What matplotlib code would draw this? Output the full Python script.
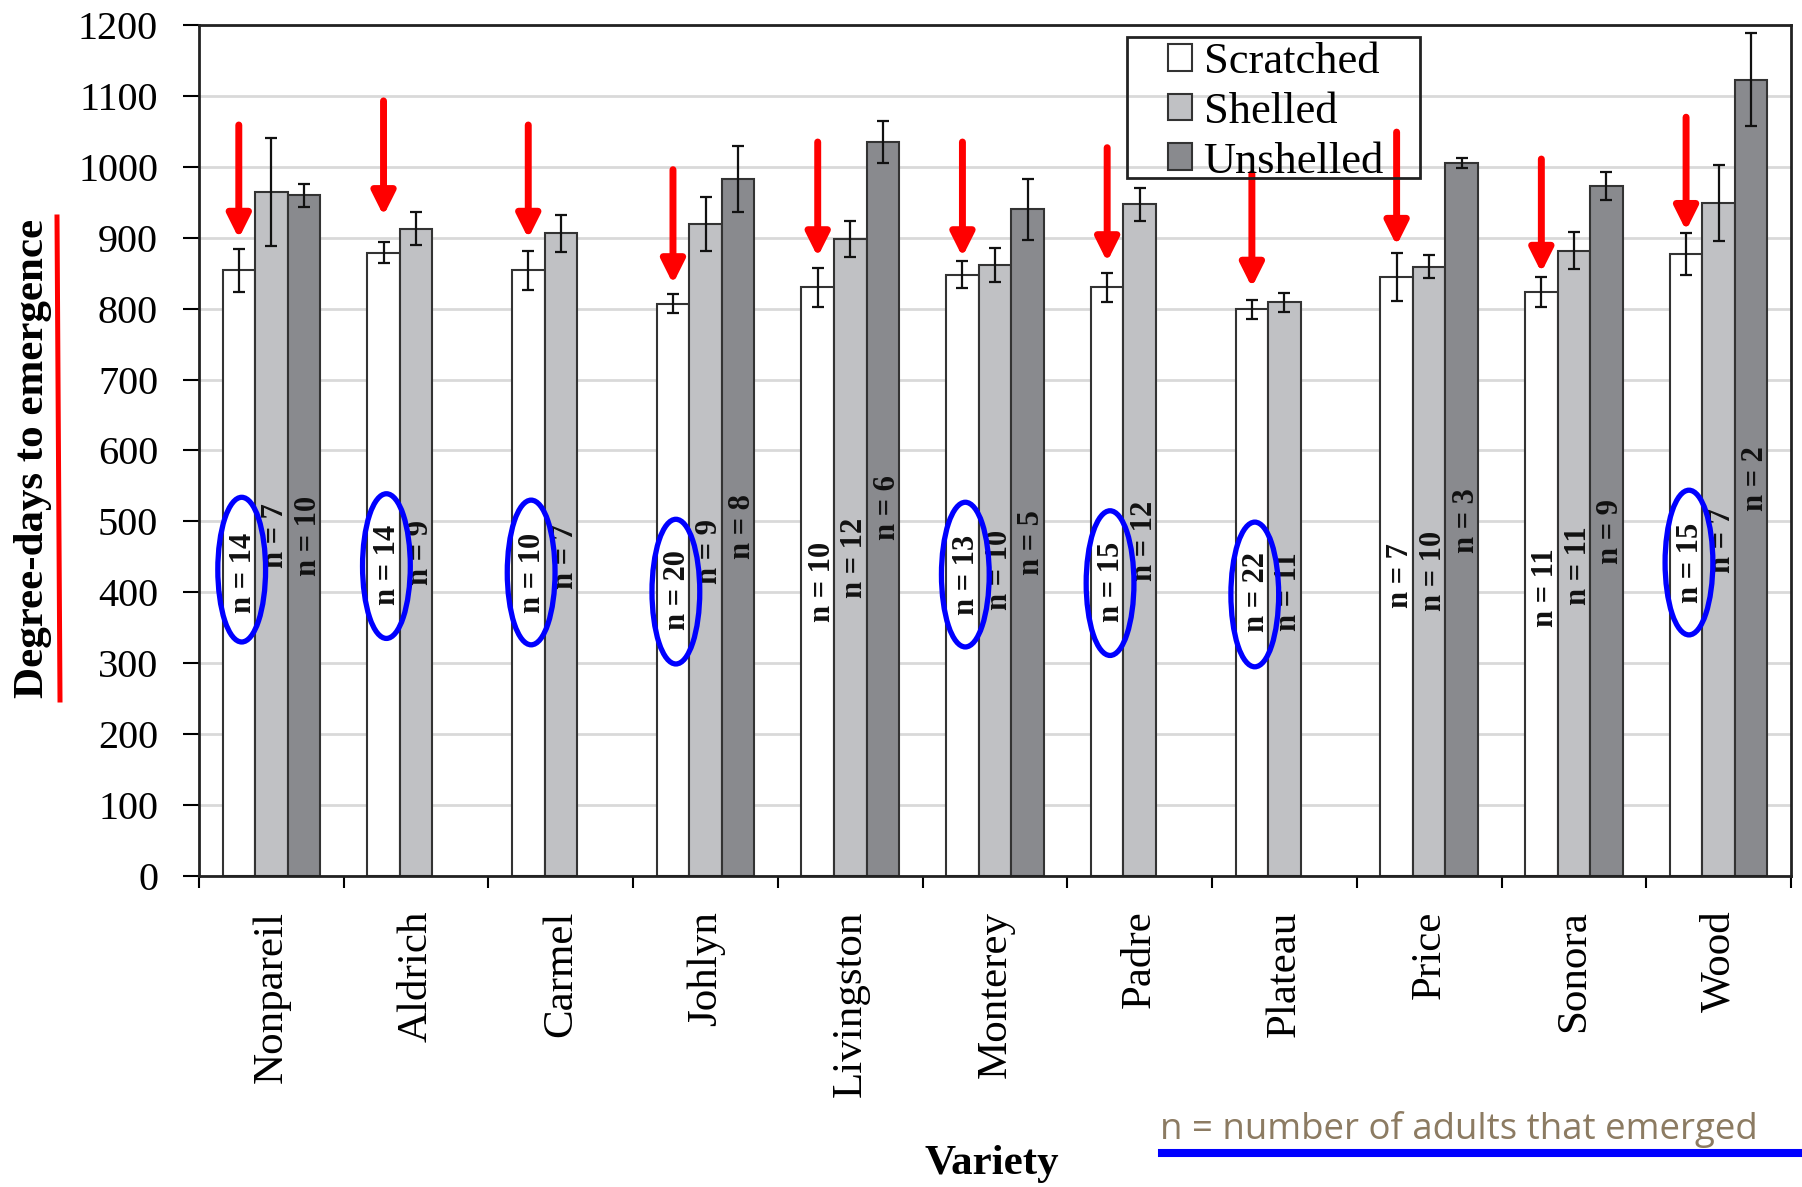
import numpy as np
import matplotlib.pyplot as plt
from matplotlib.patches import Ellipse, Patch, Rectangle
from matplotlib.lines import Line2D

nan = np.nan

varieties = ['Nonpareil', 'Aldrich', 'Carmel', 'Johlyn', 'Livingston', 'Monterey',
             'Padre', 'Plateau', 'Price', 'Sonora', 'Wood']

scratched = [854, 879, 854, 807, 830, 848, 830, 799, 845, 823, 877]
scratched_err = [30, 15, 28, 13, 27, 19, 20, 13, 34, 21, 29]
shelled = [965, 913, 906, 919, 898, 861, 947, 809, 859, 882, 949]
shelled_err = [76, 23, 26, 38, 25, 24, 23, 13, 16, 26, 53]
unshelled = [960, nan, nan, 983, 1035, 940, nan, nan, 1006, 973, 1123]
unshelled_err = [16, nan, nan, 47, 30, 43, nan, nan, 7, 20, 66]

# number of adults that emerged
n_scratched = [14, 14, 10, 20, 10, 13, 15, 22, 7, 11, 15]
n_shelled = [7, 9, 7, 9, 12, 10, 12, 11, 10, 11, 7]
n_unshelled = [10, None, None, 8, 6, 5, None, None, 3, 9, 2]

# where the n labels sit (degree-days)
ny_scratched = [427, 439, 427, 403, 415, 424, 415, 401, 423, 407, 441]
ny_shelled = [480, 456, 451, 457, 449, 431, 472, 401, 430, 438, 473]
ny_unshelled = [479, nan, nan, 493, 520, 470, nan, nan, 501, 486, 560]

# red arrows over the scratched bars
arrow_top = [1059, 1093, 1059, 996, 1035, 1035, 1027, 990, 1049, 1011, 1070]
arrow_tip = [899, 931, 899, 835, 873, 873, 866, 830, 889, 851, 910]

# blue rings round some scratched n labels
circled = ['Nonpareil', 'Aldrich', 'Carmel', 'Johlyn', 'Monterey', 'Padre', 'Plateau', 'Wood']
circle_y = [432, 437, 428, 401, 425, 413, 397, 442]

serif = 'Liberation Serif'
W, H = 1802, 1187

fig = plt.figure(figsize=(W / 100, H / 100), dpi=100)
ax = fig.add_axes([199 / W, 1 - 876 / H, (1791 - 199) / W, (876 - 25) / H])

x = np.arange(len(varieties))
bw = 0.225
series = [
    (scratched, scratched_err, n_scratched, ny_scratched, -bw, 'white', 'Scratched'),
    (shelled, shelled_err, n_shelled, ny_shelled, 0.0, '#c0c1c4', 'Shelled'),
    (unshelled, unshelled_err, n_unshelled, ny_unshelled, bw, '#898a8e', 'Unshelled'),
]

handles = []
for vals, errs, ns, nys, off, col, name in series:
    vals = np.array(vals, dtype=float)
    errs = np.array(errs, dtype=float)
    ok = ~np.isnan(vals)
    ax.bar(x[ok] + off, vals[ok], bw, color=col, edgecolor='#333333', linewidth=1.5, zorder=2)
    ax.errorbar(x[ok] + off, vals[ok], yerr=errs[ok], fmt='none', ecolor='#111111',
                elinewidth=1.6, capsize=4.5, capthick=1.6, zorder=3)
    for i in range(len(varieties)):
        if ns[i] is None:
            continue
        ax.text(x[i] + off + 0.03, nys[i], 'n = {}'.format(ns[i]), rotation=90,
                ha='center', va='center', family=serif, weight='bold', fontsize=22,
                color='#111111', zorder=4)
    handles.append(Patch(facecolor=col, edgecolor='#333333', linewidth=1.5, label=name))

for i, v in enumerate(varieties):
    xa = x[i] - bw
    ax.annotate('', xy=(xa, arrow_tip[i]), xytext=(xa, arrow_top[i]),
                arrowprops=dict(arrowstyle='-|>,head_length=0.7,head_width=0.35',
                                color='red', lw=5, mutation_scale=20,
                                shrinkA=0, shrinkB=0), zorder=5)

for v, cy in zip(circled, circle_y):
    i = varieties.index(v)
    ax.add_patch(Ellipse((x[i] - bw + 0.02, cy), 0.33, 204, fill=False,
                         edgecolor='#0000ff', linewidth=3.8, zorder=6))

ax.set_xlim(-0.5, len(varieties) - 0.5)
ax.set_ylim(0, 1200)
ax.set_yticks(np.arange(0, 1201, 100))
ax.yaxis.grid(True, color='#d9d9d9', linewidth=2)
ax.set_axisbelow(True)

ax.set_xticks(np.arange(-0.5, len(varieties), 1.0))
ax.set_xticklabels([])
ax.set_xticks(x, minor=True)
ax.set_xticklabels(varieties, minor=True, rotation=90, family=serif, fontsize=31,
                   va='top', ha='center')
ax.tick_params(axis='x', which='major', direction='out', length=8.5, width=1.5)
ax.tick_params(axis='x', which='minor', length=0, pad=25)
ax.tick_params(axis='y', direction='out', length=11.5, width=1.5, pad=18)
for lab in ax.get_yticklabels():
    lab.set_family(serif)
    lab.set_fontsize(29)

for s in ax.spines.values():
    s.set_color('#222222')
    s.set_linewidth(2)

fig.text(33 / W, 1 - 458 / H, 'Degree-days to emergence', rotation=90, ha='center',
         va='center', family=serif, weight='bold', fontsize=31)
fig.add_artist(Line2D([57 / W, 60 / W], [1 - 217 / H, 1 - 700 / H], color='red',
                      linewidth=3.6, transform=fig.transFigure))
fig.text(992 / W, 1 - 1164 / H, 'Variety', ha='center', va='center', family=serif,
         weight='bold', fontsize=31)

note = fig.text(1160 / W, 1 - 1139 / H, 'n = number of adults that emerged', ha='left',
                va='baseline', family='Open Sans', fontsize=26, color='#8c7b62')
fig.canvas.draw()
wpx = note.get_window_extent().width
note.set_fontsize(26 * 600 / wpx)
fig.add_artist(Line2D([1162 / W, 1.0], [1 - 1153 / H, 1 - 1153 / H], color='#0000ff',
                      linewidth=5.8, transform=fig.transFigure))

ax.legend(handles=handles, loc='upper left', bbox_to_anchor=(1168 / W, 1 - 42 / H),
          bbox_transform=fig.transFigure, frameon=False, borderpad=0, borderaxespad=0,
          handlelength=0.55, handleheight=0.55, handletextpad=0.25, labelspacing=0.22,
          prop={'family': serif, 'size': 32})
fig.add_artist(Rectangle((1127 / W, 1 - 178 / H), 293 / W, 141 / H, fill=False,
                         edgecolor='#222222', linewidth=2, transform=fig.transFigure))

fig.savefig('out.png', dpi=100)
